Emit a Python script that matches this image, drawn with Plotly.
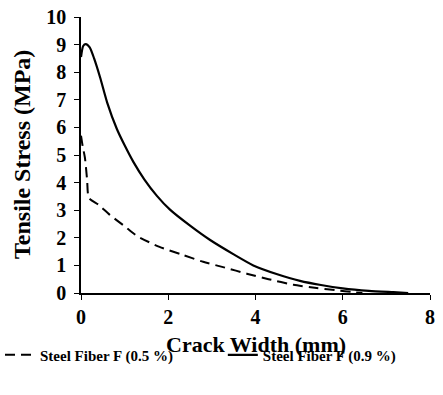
import plotly.graph_objects as go

x_05 = [0.0, 0.04, 0.09, 0.14, 0.18, 0.4, 0.66, 1.0, 1.3, 1.8, 2.3, 2.8, 3.3, 3.8, 4.3, 4.87, 5.4, 5.9, 6.2, 6.45]
y_05 = [5.7, 5.3, 4.9, 4.1, 3.45, 3.2, 2.83, 2.42, 2.05, 1.67, 1.4, 1.13, 0.92, 0.7, 0.5, 0.3, 0.18, 0.09, 0.04, 0.0]

x_09 = [0.0, 0.05, 0.11, 0.2, 0.3, 0.44, 0.6, 0.82, 1.0, 1.2, 1.45, 1.74, 2.04, 2.5, 2.96, 3.5, 3.95, 4.5, 5.02, 5.5, 6.0, 6.6, 7.16, 7.5]
y_09 = [8.55, 8.95, 9.02, 8.9, 8.5, 7.8, 6.9, 5.95, 5.35, 4.75, 4.12, 3.52, 3.02, 2.44, 1.92, 1.4, 1.0, 0.68, 0.44, 0.29, 0.17, 0.08, 0.03, 0.0]

x_ticks = [0, 2, 4, 6, 8]
y_ticks = list(range(0, 11))

x_title = "Crack Width (mm)"
y_title = "Tensile Stress (MPa)"

font_family = "Liberation Serif"
tick_font = dict(size=20, family=font_family, color="black")
legend_font = dict(size=15, family=font_family, color="black")

fig = go.Figure()
fig.add_trace(go.Scatter(x=x_05, y=y_05, mode="lines", name="<b>Steel Fiber F (0.5 %)</b>",
                         legend="legend",
                         line=dict(color="black", width=2, dash="10px,6px", shape="spline", smoothing=0.6)))
fig.add_trace(go.Scatter(x=x_09, y=y_09, mode="lines", name="<b>Steel Fiber F (0.9 %)</b>",
                         legend="legend2",
                         line=dict(color="black", width=2.2, shape="spline", smoothing=0.6)))

fig.update_layout(
    template="none",
    width=443, height=395,
    margin=dict(l=81, r=13, t=17, b=102),
    plot_bgcolor="white", paper_bgcolor="white",
    font=dict(family=font_family, color="black"),
    showlegend=True,
    legend=dict(orientation="h", x=0.0, xanchor="left", xref="container",
                y=0.101, yanchor="middle", yref="container",
                font=legend_font, itemwidth=30, bgcolor="rgba(0,0,0,0)"),
    legend2=dict(orientation="h", x=0.503, xanchor="left", xref="container",
                 y=0.101, yanchor="middle", yref="container",
                 font=legend_font, itemwidth=30, bgcolor="rgba(0,0,0,0)"),
    xaxis=dict(range=[0, 8], tickmode="array", tickvals=x_ticks,
               ticktext=[f"<b>{v}</b>" for v in x_ticks],
               showline=True, linecolor="black", linewidth=1.5, automargin=False,
               ticks="outside", ticklen=5, tickcolor="black", showgrid=False, zeroline=False,
               tickfont=tick_font),
    yaxis=dict(range=[0, 10], tickmode="array", tickvals=y_ticks,
               ticktext=[f"<b>{v}</b>" for v in y_ticks],
               showline=True, linecolor="black", linewidth=1.5, automargin=False,
               ticks="outside", ticklen=5, tickcolor="black", showgrid=False, zeroline=False,
               tickfont=tick_font, ticklabelstandoff=4),
    annotations=[
        dict(text=f"<b>{x_title}</b>", xref="paper", yref="paper", x=0.5, y=-0.188,
             xanchor="center", yanchor="middle", showarrow=False,
             font=dict(size=22, family=font_family, color="black")),
        dict(text=f"<b>{y_title}</b>", xref="paper", yref="paper", x=-0.169, y=0.5,
             xanchor="center", yanchor="middle", textangle=-90, showarrow=False,
             font=dict(size=24, family=font_family, color="black")),
    ],
)

fig.write_html("out.html")
